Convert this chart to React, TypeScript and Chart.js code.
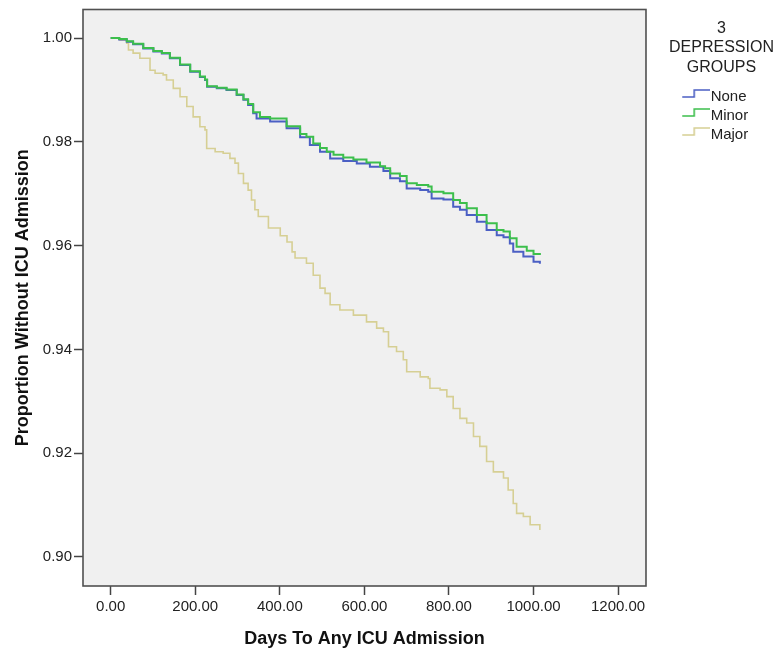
import React, { useEffect, useRef } from 'react';
import { Chart, registerables } from 'chart.js';

Chart.register(...registerables);
Chart.defaults.font.family = 'Arial, "Liberation Sans", sans-serif';

// ---- Data ----
const seriesNames = ['None', 'Minor', 'Major'];
const legendTitle = ['3', 'DEPRESSION', 'GROUPS'];
const xTitle = 'Days To Any ICU Admission';
const yTitle = 'Proportion Without ICU Admission';

const noneDays = [0, 20, 38, 53, 77, 101, 121, 140, 164, 188, 211, 223, 228, 251, 274, 298, 314, 325, 337, 345, 377, 416, 448, 471, 495, 519, 550, 582, 613, 645, 661, 684, 700, 732, 751, 759, 787, 810, 826, 842, 866, 889, 913, 929, 944, 952, 976, 1000, 1015];
const noneSurv = [1.0, 0.9997, 0.9993, 0.9988, 0.998, 0.9974, 0.997, 0.9961, 0.9948, 0.9935, 0.9925, 0.9919, 0.9906, 0.9903, 0.99, 0.989, 0.9881, 0.9871, 0.9855, 0.9845, 0.9839, 0.9826, 0.9809, 0.9794, 0.9781, 0.9768, 0.9763, 0.9758, 0.9752, 0.9744, 0.973, 0.9724, 0.971, 0.9707, 0.9704, 0.9691, 0.9689, 0.9675, 0.9669, 0.9659, 0.9646, 0.963, 0.962, 0.9616, 0.9604, 0.9588, 0.9579, 0.9569, 0.9565];

const minorDays = [0, 20, 38, 53, 77, 101, 121, 140, 164, 188, 211, 223, 228, 251, 274, 298, 314, 325, 337, 353, 377, 416, 448, 463, 479, 495, 511, 527, 550, 574, 605, 637, 649, 661, 684, 700, 724, 751, 759, 787, 810, 826, 842, 866, 889, 913, 929, 944, 960, 984, 1000, 1015];
const minorSurv = [1.0, 0.9998, 0.9994, 0.9989, 0.9981, 0.9975, 0.9971, 0.9962, 0.9949, 0.9936, 0.9926, 0.992, 0.9907, 0.9904, 0.9901, 0.9891, 0.9882, 0.9873, 0.9857, 0.9848, 0.9845, 0.983, 0.9815, 0.981, 0.9797, 0.9788, 0.9781, 0.9775, 0.977, 0.9766, 0.976, 0.9753, 0.9749, 0.9739, 0.9734, 0.972, 0.9717, 0.9714, 0.9704, 0.9701, 0.9688, 0.9682, 0.9672, 0.9659, 0.9643, 0.963, 0.9627, 0.9614, 0.9598, 0.959, 0.9584, 0.9582];

const majorDays = [0, 22, 38, 42, 53, 69, 93, 105, 124, 132, 148, 164, 180, 195, 211, 223, 227, 247, 266, 282, 294, 302, 314, 325, 333, 341, 349, 373, 401, 417, 429, 436, 463, 479, 495, 507, 519, 542, 574, 605, 629, 645, 657, 676, 692, 700, 732, 751, 755, 779, 795, 810, 826, 842, 858, 873, 889, 905, 929, 940, 952, 960, 976, 992, 1015];
const majorSurv = [1.0, 0.9996, 0.999, 0.9977, 0.9971, 0.9961, 0.9938, 0.9932, 0.9929, 0.9919, 0.9903, 0.9887, 0.9868, 0.9848, 0.9829, 0.9823, 0.9787, 0.9781, 0.9778, 0.9768, 0.9759, 0.9739, 0.972, 0.9707, 0.9688, 0.9669, 0.9656, 0.9634, 0.9619, 0.9607, 0.9588, 0.9576, 0.9566, 0.9543, 0.9518, 0.9508, 0.9486, 0.9476, 0.9466, 0.9453, 0.9441, 0.9434, 0.9405, 0.9396, 0.938, 0.9357, 0.9347, 0.9344, 0.9325, 0.9322, 0.9309, 0.9286, 0.9267, 0.9258, 0.9232, 0.9213, 0.9184, 0.9164, 0.9152, 0.9129, 0.9103, 0.9084, 0.9078, 0.9062, 0.9052];

const xMin = -65.5;
const xMax = 1266;
const xStep = 200;
const yMin = 0.8944;
const yMax = 1.0055;
const yStep = 0.02;

const seriesColors = ['#4b5fc4', '#3cbf4c', '#d6cf94'];
const seriesWidths = [2, 2, 1.6];

// legend symbol: a small step "_|‾" drawn at the right part of a wider transparent canvas
function makeStepIcon(color: string): HTMLCanvasElement {
  const c = document.createElement('canvas');
  c.width = 62;
  c.height = 20;
  const g = c.getContext('2d')!;
  g.strokeStyle = color;
  g.lineWidth = 1.6;
  g.beginPath();
  g.moveTo(34, 10);
  g.lineTo(46, 10);
  g.lineTo(46, 3);
  g.lineTo(62, 3);
  g.stroke();
  return c;
}

const plotFrame = {
  id: 'plotFrame',
  beforeDraw(chart: any) {
    const { ctx, chartArea: a } = chart;
    ctx.save();
    ctx.fillStyle = '#f0f0f0';
    ctx.fillRect(a.left, a.top, a.right - a.left, a.bottom - a.top);
    ctx.restore();
  },
  afterDatasetsDraw(chart: any) {
    const { ctx, chartArea: a } = chart;
    ctx.save();
    ctx.strokeStyle = '#505050';
    ctx.lineWidth = 1.6;
    ctx.strokeRect(a.left, a.top, a.right - a.left, a.bottom - a.top);
    ctx.restore();
  },
};

// widen the legend box so its centred multi-line title is not clipped
const legendWiden = {
  id: 'legendWiden',
  afterLayout(chart: any) {
    const lg = chart.legend;
    if (!lg) return;
    const d = 16.8;
    lg.left -= d;
    lg.right += d;
    lg.width += 2 * d;
  },
};

export default function App() {
  const ref = useRef<HTMLCanvasElement>(null);

  useEffect(() => {
    const days = [noneDays, minorDays, majorDays];
    const surv = [noneSurv, minorSurv, majorSurv];
    const datasets = seriesNames.map((name, k) => ({
      label: name,
      data: days[k].map((d, i) => ({ x: d, y: surv[k][i] })),
      borderColor: seriesColors[k],
      backgroundColor: seriesColors[k],
      borderWidth: seriesWidths[k],
      stepped: 'before' as const,
      pointRadius: 0,
      pointStyle: makeStepIcon(seriesColors[k]),
      fill: false,
      order: k === 1 ? 0 : k === 0 ? 1 : 2,
    }));

    const chart = new Chart(ref.current!, {
      type: 'line',
      data: { datasets },
      plugins: [plotFrame, legendWiden],
      options: {
        animation: false,
        responsive: true,
        maintainAspectRatio: false,
        layout: { padding: { top: 1.5, right: 0, bottom: 0, left: 0 } },
        plugins: {
          tooltip: { enabled: false },
          legend: {
            position: 'right',
            align: 'start',
            title: {
              display: true,
              text: legendTitle as any,
              color: '#222',
              font: { size: 16 },
              padding: { top: 11.2, bottom: 45.6 } as any,
            },
            labels: {
              usePointStyle: true,
              pointStyleWidth: 48,
              padding: 4,
              color: '#222',
              font: { size: 15 },
              sort: (a: any, b: any) => a.datasetIndex - b.datasetIndex,
            },
          },
        },
        scales: {
          x: {
            type: 'linear',
            min: xMin,
            max: xMax,
            afterFit: (s: any) => {
              s.height = 64;
              s.paddingLeft = 0;
              s.paddingRight = 0;
            },
            grid: { drawOnChartArea: false, drawTicks: true, tickLength: 9, tickWidth: 1.5, tickColor: '#444', color: '#444' },
            border: { display: false },
            ticks: {
              stepSize: xStep,
              includeBounds: false,
              padding: 2.5,
              color: '#222',
              font: { size: 15 },
              maxRotation: 0,
              autoSkip: false,
              callback: (v: any) => Number(v).toFixed(2),
            },
            title: {
              display: true,
              text: xTitle,
              color: '#111',
              font: { size: 18, weight: 'bold' },
              padding: 0,
            },
          },
          y: {
            type: 'linear',
            min: yMin,
            max: yMax,
            afterFit: (s: any) => {
              s.width = 75;
              s.paddingTop = 0;
              s.paddingBottom = 0;
            },
            grid: { drawOnChartArea: false, drawTicks: true, tickLength: 9, tickWidth: 1.5, tickColor: '#444', color: '#444' },
            border: { display: false },
            ticks: {
              stepSize: yStep,
              includeBounds: false,
              padding: 2,
              color: '#222',
              font: { size: 15 },
              callback: (v: any) => Number(v).toFixed(2),
            },
            title: {
              display: true,
              text: yTitle,
              color: '#111',
              font: { size: 18, weight: 'bold' },
              padding: { top: 4, bottom: 0 },
            },
          },
          yGap: {
            type: 'linear',
            position: 'right',
            display: true,
            grid: { display: false },
            border: { display: false },
            ticks: { display: false },
            afterFit: (s: any) => {
              s.width = 22;
              s.paddingTop = 0;
              s.paddingBottom = 0;
            },
          },
        },
      } as any,
    });
    return () => chart.destroy();
  }, []);

  return (
    <div style={{ width: 767, height: 642, position: 'relative' }}>
      <canvas ref={ref} />
    </div>
  );
}
